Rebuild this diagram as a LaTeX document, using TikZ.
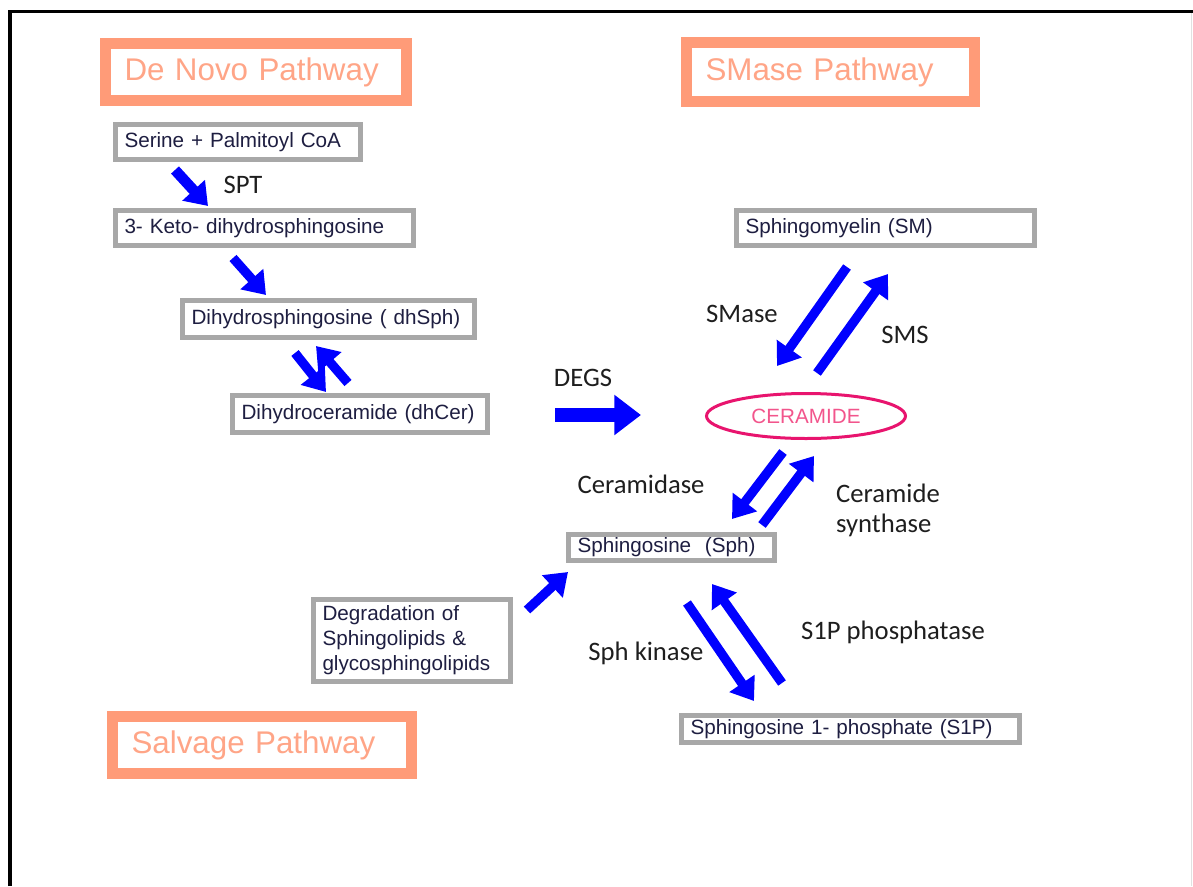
\documentclass[tikz,border=0pt]{standalone}
\usepackage{fontspec}
\setmainfont{Liberation Sans}
\newfontfamily\calibri{Carlito}
\usetikzlibrary{arrows.meta,shapes.geometric}

\definecolor{titlesalmon}{RGB}{255,155,120}
\definecolor{titletext}{RGB}{255,165,135}
\definecolor{boxgrey}{RGB}{168,168,168}
\definecolor{cmpdtext}{RGB}{30,30,65}
\definecolor{flowblue}{RGB}{0,0,255}
\definecolor{cerpink}{RGB}{232,20,110}
\definecolor{certext}{RGB}{242,85,140}
\definecolor{labelgrey}{RGB}{30,30,30}
\definecolor{edgegrey}{RGB}{225,225,225}

\begin{document}
\begin{tikzpicture}[x=0.75pt,y=0.75pt,yscale=-1,xscale=1,
  pathbox/.style={draw=titlesalmon, line width=8.25pt, fill=white, text=titletext, font=\fontsize{23.5}{28}\selectfont, inner xsep=14.25pt, inner ysep=0pt, align=left},
  cmpd/.style={draw=boxgrey, line width=3.75pt, fill=white, text=cmpdtext, font=\fontsize{15.5}{18.75}\selectfont, inner xsep=6.75pt, inner ysep=0pt, align=left},
  enzyme/.style={font=\calibri\fontsize{20}{22.5}\selectfont, text=labelgrey, inner sep=0.75pt, align=left},
  flow/.style={draw=flowblue, line width=7pt, -{Triangle[width=22pt,length=16pt]}},
  bigflow/.style={draw=flowblue, line width=10pt, -{Triangle[width=29pt,length=20pt]}}
]
\useasboundingbox (0,0) rectangle (1193,886);

%Frame
\draw [line width=2.5pt, line join=miter] (10,886) -- (10,11.5) -- (1193,11.5) ;
\draw [draw=edgegrey, line width=0.75pt] (1191.5,13) -- (1191.5,886) ;

% Pathway titles
\node [pathbox, text width=197.25pt, minimum height=42.75pt] (denovo) at (256,72) {De Novo Pathway};
\node [pathbox, text width=187.5pt, minimum height=44.25pt] (smasepw) at (830.5,72) {SMase Pathway};
\node [pathbox, text width=195.75pt, minimum height=42.75pt] (salvage) at (262,745) {Salvage Pathway};

% Compound boxes
\node [cmpd, text width=170.25pt, minimum height=26.25pt] (serine) at (238,142) {Serine + Palmitoyl CoA};
\node [cmpd, text width=210pt, minimum height=26.25pt] (keto) at (264.5,228) {3- Keto- dihydrosphingosine};
\node [cmpd, text width=205.5pt, minimum height=27.75pt] (dhsph) at (328.5,319) {Dihydrosphingosine ( dhSph)};
\node [cmpd, text width=177.75pt, minimum height=27.75pt] (dhcer) at (360,414) {Dihydroceramide (dhCer)};
\node [cmpd, text width=210pt, minimum height=26.25pt] (sm) at (885.5,228) {Sphingomyelin (SM)};
\node [cmpd, text width=141pt, minimum height=19.5pt] (sph) at (671.5,547.5) {Sphingosine~ (Sph)};
\node [cmpd, text width=240pt, minimum height=20.25pt] (s1p) at (850.5,729) {Sphingosine 1- phosphate (S1P)};
\node [cmpd, text width=134.25pt, minimum height=61.5pt] (degr) at (412,640.5) {Degradation of\\Sphingolipids \&\\glycosphingolipids};

% Ceramide
\node [draw=cerpink, line width=2.25pt, ellipse, minimum width=149.25pt, minimum height=33.75pt, text=certext, font=\fontsize{15.5}{18}\selectfont] (cer) at (806,416) {CERAMIDE};

% Enzyme labels
\node [enzyme] (spt) at (243,185) {SPT};
\node [enzyme] (degs) at (583,378) {DEGS};
\node [enzyme] (smase) at (742,314) {SMase};
\node [enzyme] (sms) at (905,335) {SMS};
\node [enzyme] (cdase) at (641,484) {Ceramidase};
\node [enzyme] (cersyn) at (888,510) {Ceramide\\synthase};
\node [enzyme] (sphk) at (646,653) {Sph kinase};
\node [enzyme] (s1pp) at (893,632) {S1P phosphatase};

% Arrow ends
\coordinate (sptA) at (175,170);     \coordinate (sptB) at (208,206);
\coordinate (ketoA) at (233,258);    \coordinate (ketoB) at (266,295);
\coordinate (dhdownA) at (295,353);  \coordinate (dhdownB) at (326,392);
\coordinate (dhupA) at (348,383);    \coordinate (dhupB) at (316,346);
\coordinate (degsA) at (555,415);    \coordinate (degsB) at (641,415);
\coordinate (smaseA) at (847,267);   \coordinate (smaseB) at (777,366);
\coordinate (smsA) at (817,373);     \coordinate (smsB) at (888,274);
\coordinate (cdaseA) at (783,452);   \coordinate (cdaseB) at (732,519);
\coordinate (cersynA) at (762,525);  \coordinate (cersynB) at (814,456);
\coordinate (degrA) at (527,610);    \coordinate (degrB) at (568,572);
\coordinate (sphkA) at (687,603);    \coordinate (sphkB) at (754,701);
\coordinate (s1ppA) at (782,683);    \coordinate (s1ppB) at (712,584);

% Block arrows
\draw [flow, line width=8pt] (sptA) -- (sptB) ;
\draw [flow] (ketoA) -- (ketoB) ;
\draw [flow] (dhdownA) -- (dhdownB) ;
\draw [flow] (dhupA) -- (dhupB) ;
\draw [bigflow] (degsA) -- (degsB) ;
\draw [flow] (smaseA) -- (smaseB) ;
\draw [flow] (smsA) -- (smsB) ;
\draw [flow] (cdaseA) -- (cdaseB) ;
\draw [flow] (cersynA) -- (cersynB) ;
\draw [flow] (degrA) -- (degrB) ;
\draw [flow] (sphkA) -- (sphkB) ;
\draw [flow] (s1ppA) -- (s1ppB) ;

\end{tikzpicture}
\end{document}
